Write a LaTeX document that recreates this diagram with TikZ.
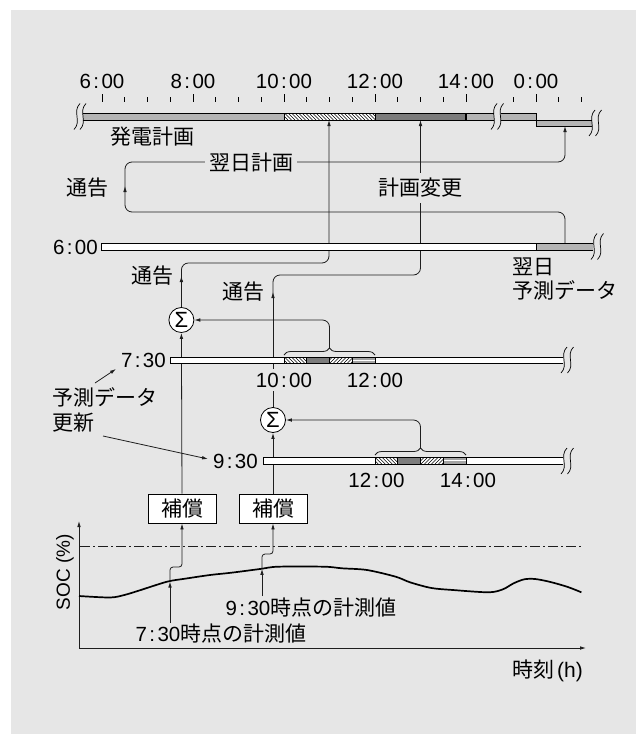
\documentclass[tikz,border=0pt]{standalone}
\usepackage{fontspec}
\setmainfont{Liberation Sans}
\newfontfamily\jp{Noto Sans CJK JP}
\usetikzlibrary{arrows.meta,decorations.pathreplacing}
\definecolor{bg}{HTML}{E6E6E6}
\definecolor{lbar}{HTML}{B4B4B4}
\definecolor{dbar}{HTML}{7C7C7C}
\definecolor{ln}{HTML}{1E1E1E}
\newcommand\tcolon{\kern2.4pt:\kern2.4pt}
\newcommand\brkmark[2]{\begin{scope}[shift={(#1,#2)}]\draw[brk] (3,-13) .. controls (-5,-5) and (5,5) .. (-3,13);\end{scope}}
\newcommand\hatchNW[4]{\begin{scope}\clip (#1,#2) rectangle (#3,#4);\foreach \k in {-10,-6.5,...,100}{\draw[line width=0.5pt] (#1+\k,#2) -- (#1+\k+#4-#2,#4);}\end{scope}}
\newcommand\hatchNE[4]{\begin{scope}\clip (#1,#2) rectangle (#3,#4);\foreach \k in {-10,-6.5,...,100}{\draw[line width=0.5pt] (#1+\k,#4) -- (#1+\k+#4-#2,#2);}\end{scope}}
\newcommand\stripe[4]{\fill[dbar!70] (#1,#2) rectangle (#3,#4);\draw[white,line width=1pt] (#1,#2/2+#4/2) -- (#3,#2/2+#4/2);}
\begin{document}
\begin{tikzpicture}[x=1pt,y=-1pt,
  conn/.style={draw=ln, line width=0.8pt},
  arr/.style={-{Latex[length=6pt,width=3.6pt]}},
  jpt/.style={font=\jp\fontsize{21}{25}\selectfont, inner sep=0pt},
  numt/.style={font=\fontsize{20.5}{24}\selectfont, inner sep=0pt},
  barout/.style={draw=black, line width=0.8pt},
  brk/.style={draw=black, line width=0.7pt},
  tick/.style={draw=black, line width=0.8pt},
  sig/.style={circle, draw=black, fill=white, line width=0.8pt, minimum size=25pt, inner sep=0pt, font=\fontsize{22}{22}\selectfont},
  hbox/.style={draw=black, fill=white, line width=0.9pt, minimum width=68pt, minimum height=29pt, inner sep=0pt, font=\jp\fontsize{21}{25}\selectfont},
  bracedec/.style={decorate, decoration={brace, amplitude=7pt}, draw=ln, line width=0.8pt},
]
\useasboundingbox (0,0) rectangle (636,734);
\fill[white] (0,0) rectangle (636,734);
\fill[bg] (11,10) rectangle (636,734);

% ---------- top scale ----------
\foreach \i in {0,...,16}{\draw[tick] (102+22.75*\i,97) -- (102+22.75*\i,102);}
\foreach \i in {0,4,...,16}{\draw[tick] (102+22.75*\i,94) -- (102+22.75*\i,102);}
\foreach \xx in {513.3,536,558.8,581.5}{\draw[tick] (\xx,97) -- (\xx,102);}
\draw[tick] (536,94) -- (536,102);
\node[numt] (t6) at (102,81) {6\tcolon00};
\node[numt] (t8) at (193,81) {8\tcolon00};
\node[numt] (t10) at (284,81) {10\tcolon00};
\node[numt] (t12) at (375,81) {12\tcolon00};
\node[numt] (t14) at (466,81) {14\tcolon00};
\node[numt] (t0) at (536,81) {0\tcolon00};

% ---------- connectors (drawn before bars) ----------
\coordinate (topA) at (329,120);
\coordinate (topB) at (420.5,120);
\coordinate (topC) at (565,126);
\coordinate (nd) at (565,243);
\node[sig] (s1) at (181.4,320) {Σ};
\node[sig] (s2) at (273,420) {Σ};
\node[hbox] (b1) at (182,508.5) {補償};
\node[hbox] (b2) at (273,508.5) {補償};

% loop: next-day plan
\draw[conn,arr,rounded corners=7pt] (nd) -- (565,212) -- (125,212) -- (125,186);
\draw[conn,arr,rounded corners=7pt] (125,190) -- (125,162) -- (565,162) -- (topC);
\node[jpt,fill=bg,inner xsep=4pt,inner ysep=2pt] (yokujitsu) at (251,163) {翌日計画};
\node[jpt] (tsu1) at (87,188) {通告};

% from sigma1 to top bar
\draw[conn,arr] (s1.north) -- (s1.north |- 0,276);
\draw[conn,arr,rounded corners=7pt] (s1.north |- 0,280) -- (181.4,263) -- (329,263) -- (topA);
\node[jpt] (tsu2) at (152,276) {通告};

% from sigma2 to top bar
\draw[conn,arr] (s2.north) -- (273,292);
\draw[conn,arr,rounded corners=7pt] (273,296) -- (273,275) -- (420.5,275) -- (topB);
\node[jpt] (tsu3) at (243,292) {通告};
\node[jpt,fill=bg,inner xsep=3pt,inner ysep=5pt] (henkou) at (420,188) {計画変更};

% compensation boxes to sigma
\draw[conn,arr] (b1.north) -- (s1.south);
\draw[conn,arr] (b2.north) -- (s2.south);

% ---------- top bar ----------
\fill[lbar] (83,113) rectangle (284,120);
\fill[white] (284,113) rectangle (375,120);
\hatchNW{284}{113}{375}{120}
\fill[dbar] (375,113) rectangle (466,120);
\fill[lbar] (466,113) rectangle (493.5,120);
\draw[barout] (83,113) -- (493.5,113) (83,120) -- (493.5,120);
\draw[barout] (284,113) -- (284,120) (375,113) -- (375,120);
\draw[black,line width=1.6pt] (466,113) -- (466,120);
\fill[lbar] (500.5,113) rectangle (536,120);
\fill[lbar] (536,120) rectangle (592,126);
\draw[barout] (500.5,113) -- (536,113) -- (536,126) -- (592,126) (500.5,120) -- (592,120);
\brkmark{77}{116.5}
\brkmark{83}{116.5}
\brkmark{494}{116.5}
\brkmark{500.5}{116.5}
\brkmark{592}{123}
\brkmark{598.5}{123}
\node[jpt] (hatsuden) at (152,137) {発電計画};

% ---------- 6:00 bar ----------
\fill[white] (101.7,243) rectangle (536.7,250);
\fill[lbar] (536.7,243) rectangle (593,250);
\draw[barout] (593,243) -- (101.7,243) -- (101.7,250) -- (593,250) (536.7,243) -- (536.7,250);
\brkmark{594}{246.5}
\brkmark{600.5}{246.5}
\node[numt,anchor=east] (l600) at (98,247) {6\tcolon00};
\node[jpt,anchor=north west,align=left] (ndlabel) at (512,258) {翌日\\[-1pt]予測データ};

% ---------- 7:30 bar ----------
\fill[white] (170.7,357) rectangle (563,363);
\hatchNW{284}{357}{306.75}{363}
\fill[dbar] (306.75,357) rectangle (329.5,363);
\fill[white] (329.5,357) rectangle (352.25,363);
\hatchNE{329.5}{357}{352.25}{363}
\stripe{352.25}{357}{375}{363}
\draw[barout] (563,357) -- (170.7,357) -- (170.7,363) -- (563,363);
\draw[barout] (284,357) rectangle (375,363);
\foreach \xx in {306.75,329.5,352.25}{\draw[barout] (\xx,357) -- (\xx,363);}
\brkmark{564}{360}
\brkmark{570.5}{360}
\node[numt,anchor=east] (l730) at (166,360) {7\tcolon30};
\node[numt,fill=bg,inner ysep=4pt] (l10b) at (284,380) {10\tcolon00};
\node[numt] (l12b) at (375,380) {12\tcolon00};
\draw[bracedec] (284,355) -- (375,355);
\draw[conn,arr,rounded corners=7pt] (329.5,348) -- (329.5,320) -- (s1.east);

% ---------- 9:30 bar ----------
\fill[white] (263.6,457.7) rectangle (563,464);
\hatchNW{375}{457.7}{397.75}{464}
\fill[dbar] (397.75,457.7) rectangle (420.5,464);
\fill[white] (420.5,457.7) rectangle (443.25,464);
\hatchNE{420.5}{457.7}{443.25}{464}
\stripe{443.25}{457.7}{466}{464}
\draw[barout] (563,457.7) -- (263.6,457.7) -- (263.6,464) -- (563,464);
\draw[barout] (375,457.7) rectangle (466,464);
\foreach \xx in {397.75,420.5,443.25}{\draw[barout] (\xx,457.7) -- (\xx,464);}
\brkmark{564}{461}
\brkmark{570.5}{461}
\node[numt,anchor=east] (l930) at (258,461) {9\tcolon30};
\node[numt] (l12c) at (376.5,480) {12\tcolon00};
\node[numt] (l14c) at (468,480) {14\tcolon00};
\draw[bracedec] (375,455) -- (466,455);
\draw[conn,arr,rounded corners=7pt] (420.5,448) -- (420.5,420) -- (s2.east);

% forecast update label
\node[jpt,anchor=north west,align=left] (upd) at (52,387) {予測データ\\[0pt]更新};
\coordinate (u1) at (95,383);
\coordinate (u1t) at (116,369);
\coordinate (u2) at (103,436);
\coordinate (u2t) at (208,459);
\draw[conn,arr] (u1) -- (u1t);
\draw[conn,arr] (u2) -- (u2t);

% ---------- SOC chart ----------
\coordinate (org) at (79,648);
\coordinate (ytop) at (79,521);
\coordinate (xend) at (586,648);
\draw[conn,arr] (org) -- (ytop);
\draw[conn,arr] (org) -- (xend);
\draw[ln,line width=0.8pt,dash pattern=on 10pt off 3pt on 2pt off 3pt] (80,546) -- (581,546);
\draw[black,line width=1.7pt] plot[smooth,tension=0.5] coordinates {(79,596) (110,597.5) (124.3,595) (138.6,590.7) (167,581.7) (185,578.7) (210,575) (231.4,572.7) (260,569) (277.9,566.7) (324.3,566.7) (342,568.3) (367,570) (395.7,576.7) (410,582.3) (431.4,588) (452.9,590) (488.6,592.3) (502.9,589.3) (513.6,583.3) (524.3,579.3) (535,579) (549.3,581.7) (567,586.7) (581.4,592.3)};
\node[rotate=90,font=\fontsize{19}{22}\selectfont,inner sep=0pt] (soc) at (65,572) {SOC (\%)};
\node[inner sep=0pt,anchor=east] (jikoku) at (583,671) {{\jp\fontsize{21}{25}\selectfont 時刻}\kern3pt{\fontsize{21}{25}\selectfont(h)}};

\node[inner sep=0pt] (m930) at (311,607.5) {\fontsize{20.5}{24}\selectfont 9\tcolon30{\jp\fontsize{21}{25}\selectfont 時点の計測値}};
\node[inner sep=0pt] (m730) at (221,634) {\fontsize{20.5}{24}\selectfont 7\tcolon30{\jp\fontsize{21}{25}\selectfont 時点の計測値}};
\coordinate (c1) at (170,581.5);
\coordinate (c2) at (262,568.8);
\coordinate (m730a) at (170,623);
\coordinate (m930a) at (262,596);
\draw[conn,arr] (m730a) -- (c1);
\draw[conn,arr] (m930a) -- (c2);
\draw[conn,arr,rounded corners=3pt] (c1) -- (170,567) -- (182,567) -- (b1.south);
\draw[conn,arr,rounded corners=3pt] (c2) -- (262,554) -- (273,554) -- (b2.south);
\end{tikzpicture}
\end{document}
